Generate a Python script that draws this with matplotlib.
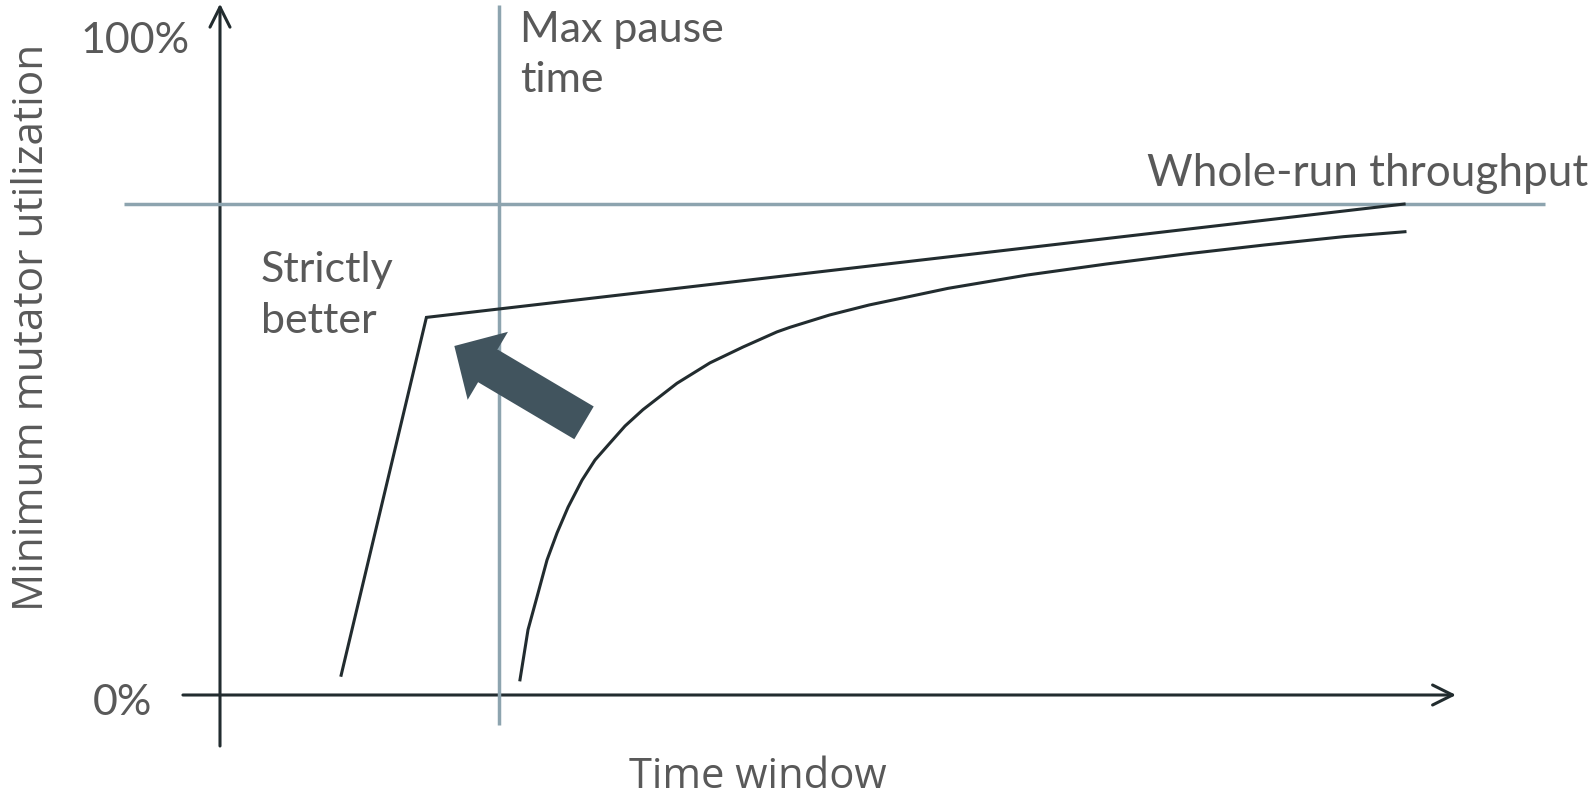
import matplotlib
matplotlib.use("Agg")
import matplotlib.pyplot as plt

# ---------------- data (time window in arbitrary units 0-100, MMU in %) ----------------
better_time = [9.8, 16.7, 95.8]
better_mmu = [3.0, 57.3, 74.5]

base_time = [24.27, 24.92, 25.65, 26.46, 27.27, 28.16, 29.29, 30.34, 31.55, 32.77,
             34.22, 36.97, 39.64, 42.31, 45.06, 46.12, 49.31, 52.51, 55.71, 58.91,
             62.11, 65.31, 71.71, 78.11, 84.51, 90.91, 95.87]
base_mmu = [2.3, 9.9, 14.9, 20.5, 24.6, 28.5, 32.6, 35.66, 38.24, 40.82,
            43.3, 47.3, 50.4, 52.8, 55.1, 55.8, 57.66, 59.18, 60.44, 61.71,
            62.72, 63.73, 65.4, 66.92, 68.29, 69.55, 70.3]

max_pause_time = 22.57
whole_run_throughput = 74.5

improve_from = (29.45, 41.3)
improve_to = (18.96, 52.96)

y_tick_labels = ["0%", "100%"]
x_title = "Time window"
y_title = "Minimum mutator utilization"

# ---------------- styling ----------------
W, H = 1591, 798
DARK = "#222c2f"
GUIDE = "#8da4af"
ARROW = "#41545e"
TEXT = "#595959"
LABEL_FONT = ["Lato", "DejaVu Sans"]
TITLE_FONT = ["Open Sans", "DejaVu Sans"]

fig = plt.figure(figsize=(W / 100, H / 100), dpi=100)
ax = fig.add_axes([0, 0, 1, 1])
# pixel mapping: x = 220 + 12.36*t ; y(from top) = 695 - 6.59*u
ax.set_xlim(-220 / 12.36, (W - 220) / 12.36)
ax.set_ylim((695 - H) / 6.59, 695 / 6.59)
ax.axis("off")


def fpos(px, py):
    return px / W, 1 - py / H


# axes with arrow heads
axis_style = dict(arrowstyle="->,head_length=0.72,head_width=0.36", lw=2.2,
                  color=DARK, mutation_scale=20, shrinkA=0, shrinkB=0)
ax.annotate("", xy=(0, 104.9), xytext=(0, -7.74), arrowprops=axis_style, zorder=1)
ax.annotate("", xy=(100, 0), xytext=(-3.0, 0), arrowprops=axis_style, zorder=1)

# guide lines
ax.plot([max_pause_time, max_pause_time], [-4.55, 104.7], color=GUIDE, lw=2.5,
        solid_capstyle="butt", zorder=2)
ax.plot([-7.77, 107.2], [whole_run_throughput, whole_run_throughput], color=GUIDE,
        lw=2.5, solid_capstyle="butt", zorder=1.5)

# curves
ax.plot(better_time, better_mmu, color=DARK, lw=2.2, solid_joinstyle="miter", zorder=3)
ax.plot(base_time, base_mmu, color=DARK, lw=2.2, solid_joinstyle="round", zorder=3)

# improvement arrow
ax.annotate("", xy=improve_to, xytext=improve_from,
            arrowprops=dict(arrowstyle="simple,head_length=2.8,head_width=5.69,tail_width=2.74",
                            mutation_scale=10, fc=ARROW, ec="none", lw=0,
                            shrinkA=0, shrinkB=0), zorder=4)

# labels
lab = dict(color=TEXT, family=LABEL_FONT, fontsize=31)
fig.text(*fpos(190, 53), y_tick_labels[1], ha="right", va="baseline", **lab)
fig.text(*fpos(152, 715), y_tick_labels[0], ha="right", va="baseline", **lab)
fig.text(*fpos(520, 42), "Max pause", ha="left", va="baseline", **lab)
fig.text(*fpos(520, 92), "time", ha="left", va="baseline", **lab)
fig.text(*fpos(261, 282), "Strictly", ha="left", va="baseline", **lab)
fig.text(*fpos(261, 333), "better", ha="left", va="baseline", **lab)
fig.text(*fpos(1147, 186), "Whole-run throughput", ha="left", va="baseline",
         **{**lab, "fontsize": 31.8})

tit = dict(color=TEXT, family=TITLE_FONT)
fig.text(*fpos(758, 788), x_title, ha="center", va="baseline", fontsize=30, **tit)
fig.text(*fpos(43, 327.5), y_title, ha="center", va="baseline", rotation=90,
         rotation_mode="anchor", fontsize=30.5, **tit)

fig.savefig("out.png", dpi=100)
